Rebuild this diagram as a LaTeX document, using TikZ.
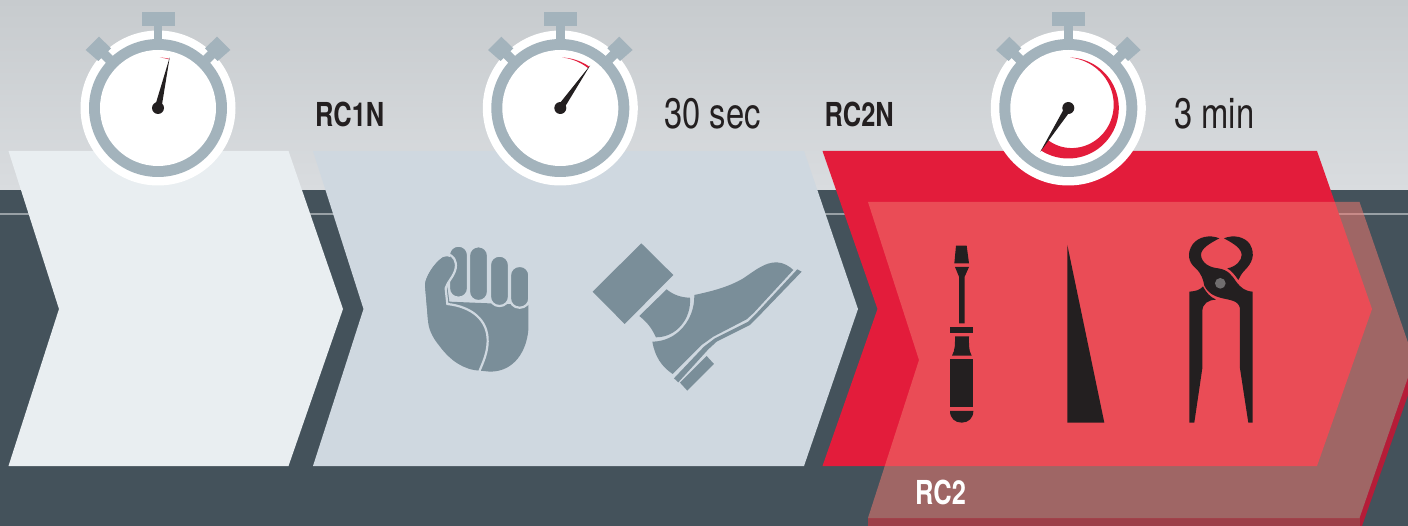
\documentclass[tikz,border=0pt]{standalone}
\usepackage{fontspec}
\setmainfont[FakeStretch=0.77]{TeX Gyre Heros}
\definecolor{dark}{HTML}{44525B}
\definecolor{gtop}{HTML}{C7CBCE}
\definecolor{gbot}{HTML}{D9DCDF}
\definecolor{cone}{HTML}{E9EEF1}
\definecolor{ctwo}{HTML}{CFD8E0}
\definecolor{cred}{HTML}{E31C3B}
\definecolor{over}{HTML}{F1786F}
\definecolor{ring}{HTML}{A3B3BC}
\definecolor{hand}{HTML}{7A8E99}
\definecolor{ink}{HTML}{231F20}
\definecolor{crim}{HTML}{B51C38}
\definecolor{strip}{HTML}{9C3F48}
\tikzset{
  handfill/.style={fill=hand},
  handcut/.style={draw=ctwo,line width=2.2pt},
  toolfill/.style={fill=ink},
  lab/.style={inner sep=0pt,text=ink,anchor=base west,font=\fontsize{33}{33}\selectfont\bfseries},
  timelab/.style={inner sep=0pt,text=ink,anchor=base west,font=\fontsize{42.6}{43}\selectfont},
}
\newcommand{\watch}[2]{%
  \fill[white] (#1,108) circle[radius=77.5];
  \fill[ring] (#1-16.5,12) rectangle (#1+16.5,26);
  \fill[ring] (#1-4.4,26) rectangle (#1+4.4,45);
  \begin{scope}[shift={(#1,108)}]
    \fill[ring] (-63.4,-56.6) -- (-56.6,-63.4) -- (-41.6,-48.4) -- (-48.4,-41.6) -- cycle;
    \fill[ring] (63.4,-56.6) -- (56.6,-63.4) -- (41.6,-48.4) -- (48.4,-41.6) -- cycle;
    \fill[ring] (-72.3,-58) -- (-59,-71.3) -- (-47,-59.7) -- (-59.7,-47) -- cycle;
    \fill[ring] (72.3,-58) -- (59,-71.3) -- (47,-59.7) -- (59.7,-47) -- cycle;
  \end{scope}
  \fill[ring] (#1,108) circle[radius=69];
  \fill[white] (#1,108) circle[radius=58];
  \fill[cred] plot[domain=2:#2,samples=70] ({#1+50.5*sin(\x)},{108-50.5*cos(\x)})
    -- plot[domain=#2:2,samples=70] ({#1+(50.5-12.5*(\x-2)/210)*sin(\x)},{108-(50.5-12.5*(\x-2)/210)*cos(\x)}) -- cycle;
  \fill[ink] ({#1+52*sin(#2)},{108-52*cos(#2)}) -- ({#1+3.2*cos(#2)+3*sin(#2)},{108+3.2*sin(#2)-3*cos(#2)}) -- ({#1-3.2*cos(#2)+3*sin(#2)},{108-3.2*sin(#2)-3*cos(#2)}) -- cycle;
  \fill[ink] ({#1},108) circle[radius=6];
}
\begin{document}
\begin{tikzpicture}[x=1pt,y=-1pt]
\useasboundingbox (0,0) rectangle (1408,526);
\clip (0,0) rectangle (1408,526);
% background
\shade[top color=gtop,bottom color=gbot] (0,0) rectangle (1408,190);
\fill[dark] (0,190) rectangle (1408,526);
\fill[white!45!dark] (0,213.2) rectangle (1408,215);
% chevrons
\fill[cone] (8.5,151) -- (288.5,151) -- (343,309) -- (288.5,466) -- (8.5,466) -- (59,309) -- cycle;
\fill[ctwo] (313,151) -- (804,151) -- (858,309) -- (804,466) -- (313,466) -- (363.5,309) -- cycle;
\fill[cred] (822.5,151) -- (1317,151) -- (1372,309) -- (1317,466) -- (822.5,466) -- (877.5,309) -- cycle;
% lower shadow of the overlay
\fill[crim] (1359.5,518) -- (1414,360) -- (1414,378) -- (1362,526) -- (1359.5,526) -- cycle;
\fill[strip] (868,518) rectangle (1359.5,526);
% overlay
\fill[over,fill opacity=.53] (868,202) -- (1359.5,202) -- (1414,360) -- (1359.5,518) -- (868,518) -- (919,360) -- cycle;
% watches
\watch{158}{13}
\watch{560.3}{35}
\watch{1068.3}{212.6}
% labels
\node[lab] (rc1n) at (315,127) {RC1N};
\node[lab] (rc2n) at (824.5,127) {RC2N};
\node[lab,text=white] (rc2) at (915,504) {RC2};
\node[timelab] (t30) at (664,128.5) {30 sec};
\node[timelab] (t3) at (1174,128.5) {3 min};
% fist and foot
\begin{scope}[shift={(400,230)},x=0.3333pt,y=-0.3333pt]
  \fill[handfill] (130,82) -- (148,215) -- (385,225)
    -- (385,300) .. controls (380,360) and (345,425) .. (270,425) -- (240,422)
    .. controls (190,420) and (150,390) .. (120,350) .. controls (95,320) and (85,295) .. (84,270)
    -- (75,165) .. controls (75,145) and (100,100) .. (130,82) -- cycle;
  \filldraw[handfill,handcut,rounded corners=9.2pt] (147,47) rectangle (204,203);
  \filldraw[handfill,handcut,rounded corners=9.2pt] (207,49) rectangle (264,213);
  \filldraw[handfill,handcut,rounded corners=9.2pt] (270,77) rectangle (327,228);
  \filldraw[handfill,handcut,rounded corners=9.2pt] (330,108) rectangle (388,233);
  % thumb, in front of the index finger
  \fill[handfill] (75,165) .. controls (75,145) and (100,100) .. (128,82) .. controls (150,72) and (172,90) .. (167,115) .. controls (162,140) and (142,155) .. (137,175) -- (142,222) -- (84,270) -- cycle;
  \draw[handcut] (142,72) .. controls (160,76) and (171,92) .. (167,115) .. controls (162,140) and (142,155) .. (137,175) -- (142,222) .. controls (215,230) and (265,270) .. (263,335) .. controls (262,370) and (250,395) .. (238,424);
  % foot
  \fill[handfill] (724,40) -- (820,135) -- (674,282) -- (578,185) -- cycle;
  \fill[handfill] (800,178) .. controls (820,195) and (845,203) .. (870,203) .. controls (875,265) and (830,322) .. (768,322) .. controls (755,295) and (745,280) .. (718,258) -- cycle;
  \fill[handfill] (883,195) .. controls (930,185) and (985,172) .. (1030,145) .. controls (1070,118) and (1095,97) .. (1130,97) .. controls (1150,97) and (1170,110) .. (1180,120)
    -- (1060,250) -- (1040,268) -- (940,320) -- (905,345) -- (818,432) .. controls (785,410) and (765,380) .. (757,335) .. controls (830,335) and (885,270) .. (883,195) -- cycle;
  \fill[handfill] (1192,118) -- (1205,125) -- (1070,265) -- (1050,285) -- (950,335) -- (925,358) -- (835,457) -- (822,445) -- (912,350) -- (945,325) -- (1045,275) -- (1065,255) -- cycle;
  \fill[handfill] (920,378) -- (942,402) -- (862,482) -- (840,458) -- cycle;
\end{scope}
% tools
\begin{scope}[shift={(920,225)},x=0.3333pt,y=-0.3333pt]
  \fill[toolfill] (108,62) -- (140,62) -- (147,115) -- (103,115) -- cycle;
  \fill[toolfill] (105,126) -- (147,126) -- (134,155) -- (134,295) -- (117,295) -- (117,155) -- cycle;
  \fill[toolfill] (90,305) rectangle (160,323);
  \fill[toolfill] (105,334) -- (147,334) .. controls (147,355) and (145,375) .. (155,392) -- (96,392) .. controls (106,375) and (105,355) .. (105,334) -- cycle;
  \fill[toolfill] (90,402) rectangle (160,545);
  \fill[toolfill] (90,558) -- (160,558) .. controls (160,580) and (145,593) .. (125,593) .. controls (105,593) and (90,580) .. (90,558) -- cycle;
  \fill[toolfill] (442,60) -- (553,593) -- (442,593) -- cycle;
  % pliers: left jaw to right handle
  \fill[toolfill] (898,40) .. controls (870,28) and (835,35) .. (818,58) .. controls (800,85) and (805,110) .. (825,128) .. controls (845,145) and (850,165) .. (853,182)
    .. controls (865,205) and (880,212) .. (900,218) .. controls (930,226) and (955,225) .. (960,250)
    -- (960,430) -- (985,593) -- (998,593) -- (998,200) .. controls (975,198) and (965,190) .. (950,172) .. controls (935,150) and (925,135) .. (895,130) .. controls (870,128) and (845,115) .. (843,90) .. controls (843,70) and (870,55) .. (898,40) -- cycle;
  % pliers: right jaw
  \fill[toolfill] (912,40) .. controls (940,28) and (975,35) .. (990,58) .. controls (1008,90) and (995,115) .. (975,135) .. controls (965,145) and (960,155) .. (955,165) .. controls (945,150) and (935,138) .. (922,130) .. controls (950,125) and (965,105) .. (965,90) .. controls (965,70) and (940,55) .. (912,40) -- cycle;
  % pliers: left handle
  \fill[toolfill] (808,200) .. controls (830,198) and (840,195) .. (849,184) .. controls (860,205) and (870,215) .. (888,224) .. controls (865,225) and (847,235) .. (847,260) -- (847,430) -- (823,593) -- (808,593) -- cycle;
  \fill[fill=white!35!ink] (901,175) circle[radius=16];
\end{scope}
\end{tikzpicture}
\end{document}
